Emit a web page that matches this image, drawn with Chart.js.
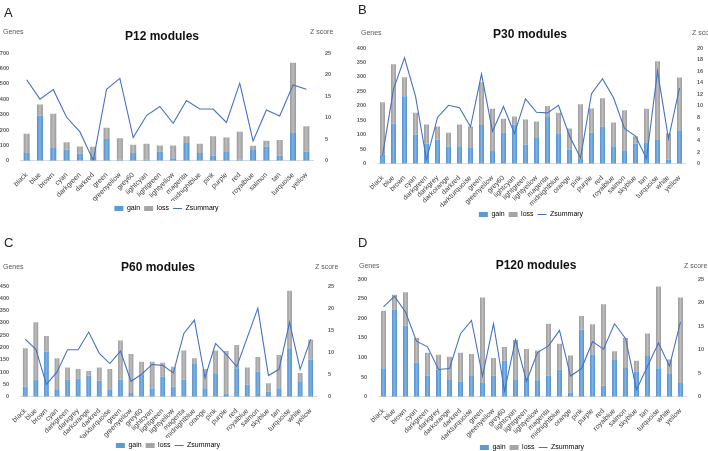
<!DOCTYPE html>
<html>
<head>
<meta charset="utf-8">
<script src="https://cdn.jsdelivr.net/npm/chart.js@4.4.1/dist/chart.umd.min.js"></script>
<style>
  body { margin: 0; background: #fff; overflow: hidden; }
  #page { position: relative; width: 708px; height: 451px; overflow: hidden; font-family: "Liberation Sans", Arial, sans-serif; }
  .panel { position: absolute; width: 354px; height: 240px; }
  .panel canvas { position: absolute; left: 0; top: 0; }
  .lbl { position: absolute; white-space: nowrap; transform: translateY(-50%); }
  .letter { font-size: 13px; color: #222; }
  .title { font-size: 12px; font-weight: bold; color: #111; transform: translate(-50%, -50%); }
  .axis-name { font-size: 7px; color: #595959; }
</style>
</head>
<body>
<div id="page">
  <div class="panel" style="left:0;top:0">
    <canvas id="chartA"></canvas>
    <div class="lbl letter" style="left:4px;top:12px">A</div>
    <div class="lbl title" style="left:162px;top:36px">P12 modules</div>
    <div class="lbl axis-name" style="left:3px;top:31px">Genes</div>
    <div class="lbl axis-name" style="left:310px;top:31px">Z score</div>
  </div>
  <div class="panel" style="left:354px;top:0">
    <canvas id="chartB"></canvas>
    <div class="lbl letter" style="left:4px;top:9px">B</div>
    <div class="lbl title" style="left:176px;top:34px">P30 modules</div>
    <div class="lbl axis-name" style="left:7px;top:32px">Genes</div>
    <div class="lbl axis-name" style="left:338px;top:32px">Z score</div>
  </div>
  <div class="panel" style="left:0;top:225px">
    <canvas id="chartC"></canvas>
    <div class="lbl letter" style="left:4px;top:17px">C</div>
    <div class="lbl title" style="left:158px;top:42px">P60 modules</div>
    <div class="lbl axis-name" style="left:3px;top:41px">Genes</div>
    <div class="lbl axis-name" style="left:315px;top:41px">Z score</div>
  </div>
  <div class="panel" style="left:354px;top:225px">
    <canvas id="chartD"></canvas>
    <div class="lbl letter" style="left:4px;top:17px">D</div>
    <div class="lbl title" style="left:182px;top:40px">P120 modules</div>
    <div class="lbl axis-name" style="left:5px;top:40px">Genes</div>
    <div class="lbl axis-name" style="left:330px;top:40px">Z score</div>
  </div>
</div>
<script>
// P12 modules
const catsA = ["black", "blue", "brown", "cyan", "darkgreen", "darkred", "green", "greenyellow", "grey60", "lightcyan", "lightgreen", "lightyellow", "magenta", "midnightblue", "pink", "purple", "red", "royalblue", "salmon", "tan", "turquoise", "yellow"];
const gainA = [50, 294, 83, 74, 48, 25, 142, 8, 50, 8, 61, 16, 115, 50, 34, 62, 8, 75, 93, 34, 181, 61];
const lossA = [126, 71, 223, 46, 45, 66, 73, 138, 54, 103, 39, 84, 44, 61, 125, 90, 181, 23, 37, 101, 455, 163];
const zA = [18.8, 14.3, 16.5, 10.1, 6.7, 0.1, 16.6, 19.1, 5.4, 10.5, 12.6, 8.7, 14.0, 12.0, 12.0, 8.9, 18.0, 4.6, 11.8, 10.4, 17.6, 16.6];

// P30 modules
const catsB = ["black", "blue", "brown", "cyan", "darkgreen", "darkgrey", "darkorange", "darkred", "darkturquoise", "green", "greenyellow", "grey60", "lightcyan", "lightgreen", "lightyellow", "magenta", "midnightblue", "orange", "pink", "purple", "red", "royalblue", "salmon", "skyblue", "tan", "turquoise", "white", "yellow"];
const gainB = [32, 138, 233, 101, 70, 84, 59, 61, 55, 134, 44, 107, 136, 67, 92, 164, 103, 49, 17, 107, 128, 61, 44, 70, 72, 82, 15, 116];
const lossB = [181, 206, 66, 75, 66, 45, 48, 75, 74, 148, 146, 49, 27, 86, 54, 36, 73, 73, 189, 84, 98, 82, 141, 25, 118, 272, 90, 182];
const zB = [1.4, 12.9, 18.3, 11.7, 0.7, 8.0, 10.1, 9.7, 6.4, 15.5, 5.6, 9.9, 5.2, 11.2, 8.9, 8.8, 10.1, 4.8, 1.0, 12.1, 14.7, 11.4, 6.1, 4.8, 0.9, 16.0, 4.3, 13.1];

// P60 modules
const catsC = catsB;
const gainC = [42, 69, 184, 31, 69, 73, 85, 65, 28, 69, 15, 90, 35, 82, 42, 69, 136, 35, 96, 12, 116, 49, 103, 22, 35, 197, 60, 150];
const lossC = [155, 234, 63, 126, 50, 40, 20, 54, 85, 160, 159, 52, 107, 56, 80, 119, 21, 78, 92, 174, 94, 70, 59, 33, 135, 234, 37, 82];
const zC = [13.0, 10.7, 2.8, 5.6, 10.6, 10.6, 14.6, 9.8, 7.5, 10.3, 3.5, 5.1, 7.3, 7.1, 5.4, 14.3, 17.3, 4.3, 12.0, 9.6, 6.8, 13.4, 20.0, 4.8, 6.2, 16.8, 6.2, 13.0];

// P120 modules
const catsD = catsB;
const gainD = [73, 222, 181, 87, 54, 69, 43, 39, 53, 35, 54, 92, 43, 49, 42, 54, 69, 11, 171, 108, 28, 94, 75, 64, 104, 73, 58, 35];
const lossD = [146, 38, 85, 63, 58, 38, 59, 73, 56, 218, 45, 35, 102, 73, 76, 132, 66, 94, 35, 77, 208, 22, 75, 28, 57, 208, 37, 218];
const zD = [19.1, 21.3, 18.0, 11.8, 10.6, 5.8, 6.0, 13.4, 16.2, 4.4, 15.5, 1.2, 12.1, 3.3, 9.4, 10.8, 14.1, 4.4, 6.0, 11.7, 10.1, 15.5, 12.4, 1.5, 6.5, 11.4, 6.5, 15.9];

// axis ranges: [max, step] for genes (left) and Z score (right)
const genesAxisA = [700, 100], zAxisA = [25, 5];
const genesAxisB = [400, 50], zAxisB = [20, 2];
const genesAxisC = [450, 50], zAxisC = [25, 5];
const genesAxisD = [300, 50], zAxisD = [25, 5];

Chart.defaults.font.family = "'Liberation Sans', Arial, sans-serif";
Chart.defaults.color = "#595959";

const LINE_COLOR = "#4472c4";
const BAR_PCT = 0.45;

// excel-like shaded bar: darker edges, lighter centre
function barShade(edge, mid) {
  return function (c) {
    const chart = c.chart;
    const xs = chart.scales.x;
    if (!xs || c.dataIndex === undefined) return edge;
    const x = xs.getPixelForValue(c.dataIndex);
    const w = (xs.width / chart.data.labels.length) * BAR_PCT;
    const g = chart.ctx.createLinearGradient(x - w / 2, 0, x + w / 2, 0);
    g.addColorStop(0, edge);
    g.addColorStop(0.5, mid);
    g.addColorStop(1, edge);
    return g;
  };
}

// box = plot area edges inside the 354px wide panel + legend text centre
function buildPanel(canvasId, cats, gain, loss, z, genesAxis, zAxis, box) {
  const legendTop = box.legendY - 5.8;
  const canvas = document.getElementById(canvasId);
  canvas.width = 354;
  canvas.height = Math.round(legendTop + 20);

  const tickFont = { size: 5.5, weight: "bold" };

  return new Chart(canvas, {
    data: {
      labels: cats,
      datasets: [
        {
          type: "bar",
          label: "gain",
          data: gain,
          backgroundColor: barShade("#4f8fcf", "#7fb2e3"),
          yAxisID: "y",
          order: 1,
          barPercentage: BAR_PCT,
          categoryPercentage: 1,
          pointStyle: "rect",
        },
        {
          type: "bar",
          label: "loss",
          data: loss,
          backgroundColor: barShade("#999999", "#bdbdbd"),
          yAxisID: "y",
          order: 1,
          barPercentage: BAR_PCT,
          categoryPercentage: 1,
          pointStyle: "rect",
        },
        {
          type: "line",
          label: "Zsummary",
          data: z,
          borderColor: LINE_COLOR,
          backgroundColor: LINE_COLOR,
          borderWidth: 1.1,
          pointRadius: 0,
          tension: 0,
          yAxisID: "y2",
          order: 0,
          pointStyle: "line",
        },
      ],
    },
    options: {
      responsive: false,
      animation: false,
      layout: { padding: { top: box.top, left: 0, right: 0, bottom: 0 } },
      plugins: {
        tooltip: { enabled: false },
        legend: {
          position: "bottom",
          fullSize: false,
          maxHeight: 20,
          labels: {
            usePointStyle: true,
            pointStyleWidth: 9,
            boxHeight: 5,
            padding: 4,
            font: { size: 7 },
            color: "#404040",
            generateLabels: (chart) => [
              { text: "gain", fillStyle: "#5b9bd5", strokeStyle: "#5b9bd5", lineWidth: 0, pointStyle: "rect", datasetIndex: 0 },
              { text: "loss", fillStyle: "#a5a5a5", strokeStyle: "#a5a5a5", lineWidth: 0, pointStyle: "rect", datasetIndex: 1 },
              { text: "Zsummary", fillStyle: LINE_COLOR, strokeStyle: LINE_COLOR, lineWidth: 1, pointStyle: "line", datasetIndex: 2 },
            ],
          },
        },
      },
      scales: {
        x: {
          stacked: true,
          grid: { display: false },
          border: { display: true, color: "#d9d9d9" },
          ticks: {
            autoSkip: false,
            minRotation: 45,
            maxRotation: 45,
            padding: 2,
            font: { size: 7 },
            color: "#404040",
          },
          afterFit: (s) => { s.height = legendTop - box.bottom; },
        },
        y: {
          stacked: true,
          position: "left",
          min: 0,
          max: genesAxis[0],
          ticks: { stepSize: genesAxis[1], padding: 3, font: tickFont },
          grid: { display: false },
          border: { display: false },
          afterFit: (s) => { s.width = box.left; },
        },
        y2: {
          position: "right",
          min: 0,
          max: zAxis[0],
          ticks: { stepSize: zAxis[1], padding: 4, font: tickFont },
          grid: { display: false },
          border: { display: false },
          afterFit: (s) => { s.width = 354 - box.right; },
        },
      },
    },
  });
}

buildPanel("chartA", catsA, gainA, lossA, zA, genesAxisA, zAxisA, { left: 20, right: 313, top: 53, bottom: 161, legendY: 207 });
buildPanel("chartB", catsB, gainB, lossB, zB, genesAxisB, zAxisB, { left: 23, right: 331, top: 48, bottom: 164, legendY: 213 });
buildPanel("chartC", catsC, gainC, lossC, zC, genesAxisC, zAxisC, { left: 20, right: 316, top: 61, bottom: 172, legendY: 219 });
buildPanel("chartD", catsD, gainD, lossD, zD, genesAxisD, zAxisD, { left: 24, right: 332, top: 54, bottom: 172, legendY: 221 });
</script>
</body>
</html>
